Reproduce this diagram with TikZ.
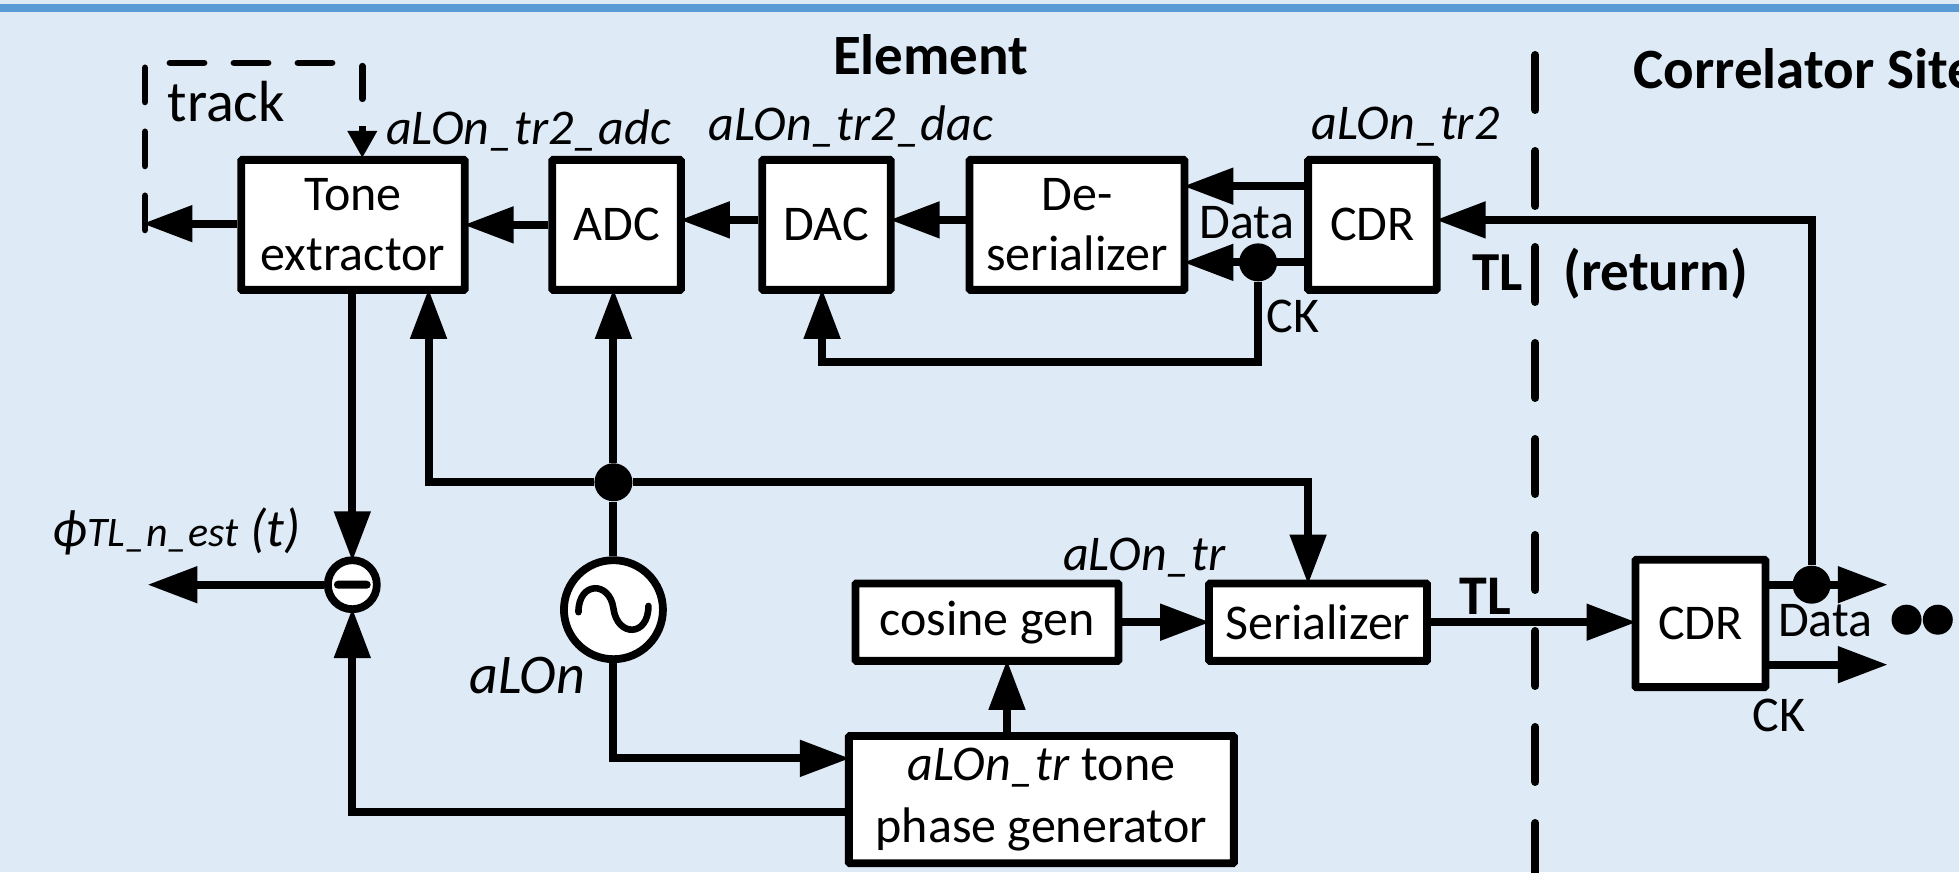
\documentclass[tikz,border=0pt]{standalone}
\usepackage{fontspec}
\setmainfont{Carlito}
\usetikzlibrary{arrows.meta,calc}
\definecolor{bgblue}{HTML}{DEEAF6}
\definecolor{barblue}{HTML}{5B9BD5}
\tikzset{
  x=0.6247pt,y=-0.6247pt,
  blockbox/.style={draw=black,fill=white,line width=3.9pt,align=center,inner sep=0pt,font=\fontsize{25}{30}\selectfont,rounded corners=0.5pt},
  conn/.style={line width=4pt,draw=black},
  arr/.style={conn,shorten >=-2.5pt,-{Triangle[length=25pt,width=17.5pt]}},
  lab/.style={font=\fontsize{25}{30}\selectfont,inner sep=0pt},
  itlab/.style={font=\itshape\fontsize{25}{30}\selectfont,inner sep=0pt},
  boldlab/.style={font=\bfseries\fontsize{28.5}{33}\selectfont,inner sep=0pt},
  dot/.style={circle,fill=black,draw=none,inner sep=0pt,minimum size=19pt},
  dashline/.style={line width=3.4pt,line cap=round,draw=black,dash pattern=on 17pt off 15pt},
  longdash/.style={line width=4pt,line cap=round,draw=black,dash pattern=on 27.5pt off 20.5pt},
}
\begin{document}
\begin{tikzpicture}
\useasboundingbox (0,0) rectangle (1568,698);
\fill[bgblue] (0,0) rectangle (1568,698);
\fill[barblue] (0,3.2) rectangle (1568,9.6);

% blocks
\node[blockbox,minimum width=111.8pt,minimum height=65pt] (tone) at (282.5,180) {Tone\\extractor};
\node[blockbox,minimum width=64.3pt,minimum height=65pt] (adc) at (493.5,180) {ADC};
\node[blockbox,minimum width=64.3pt,minimum height=65pt] (dac) at (661.5,180) {DAC};
\node[blockbox,minimum width=107.5pt,minimum height=65pt] (deser) at (862,180) {De-\\serializer};
\node[blockbox,minimum width=64.3pt,minimum height=65pt] (cdra) at (1098.5,180) {CDR};
\node[blockbox,minimum width=131.5pt,minimum height=38.7pt] (cosg) at (790,498) {\raisebox{-1.2pt}{cosine gen}};
\node[blockbox,minimum width=109pt,minimum height=38.7pt] (ser) at (1055,498) {Serializer};
\node[blockbox,minimum width=192.5pt,minimum height=63.7pt] (phase) at (833.5,640) {\raisebox{-1.2pt}{\textit{aLOn\_tr} tone}\\\raisebox{-2.4pt}{phase generator}};
\node[blockbox,minimum width=65pt,minimum height=63.7pt] (cdrb) at (1361,499) {CDR};

% oscillator and subtractor
\node[circle,draw=black,fill=white,line width=3.9pt,minimum size=49.5pt,inner sep=0pt] (osc) at (491,488) {};
\draw[line width=3.3pt,line cap=round] (463,490) .. controls (463,465) and (488,465) .. (491,487) .. controls (494,510) and (519,510) .. (519,485);
\node[circle,draw=black,fill=white,line width=3.9pt,minimum size=24.5pt,inner sep=0pt] (minus) at (282,468) {};
\node[fill=black,minimum width=18.4pt,minimum height=4pt,inner sep=0pt,rounded corners=2pt] (minusbar) at (282,468) {};

% junctions
\node[dot] (j1) at (491,386) {};
\node[dot] (j2) at (1007,210) {};
\node[dot] (j3) at (1450,468) {};

% free ends
\coordinate (toneout) at (118,179);
\coordinate (subout) at (122,468);
\coordinate (trackbl) at (116,184);
\coordinate (trackl) at (116,50.4);
\coordinate (trackm) at (272,50.4);
\coordinate (trackr) at (290,53);
\coordinate (trackrb) at (290,79);
\coordinate (trackar) at (290,101);
\coordinate (cka) at (658,290);
\coordinate (lefty) at (343,386);
\coordinate (righty) at (1047,386);
\coordinate (cdrup) at (1450,176);
\coordinate (dataout) at (1507,468);
\coordinate (ckout) at (1507,532);
\coordinate (vtop) at (1229,44);
\coordinate (vbot) at (1229,702);

% dashed
\draw[longdash] (vtop) -- (vbot);
\draw[dashline] (trackbl) -- (trackl) -- (trackm);
\draw[line width=3.4pt,line cap=round] (trackr) -- (trackrb);
\draw[line width=3.3pt,shorten >=-1pt,-{Triangle[length=13.5pt,width=14pt]}] (trackar) -- (tone.north -| trackr);

% connectors
\draw[arr] (tone.west |- toneout) -- (toneout);
\draw[arr] (adc.west) -- (tone.east);
\draw[arr] (dac.west |- 0,176) -- (adc.east |- 0,176);
\draw[arr] (deser.west |- 0,176) -- (dac.east |- 0,176);
\draw[arr] (cdra.west |- 0,149) -- (deser.east |- 0,149);
\draw[arr] (cdra.west |- j2) -- (deser.east |- j2);
\draw[arr] (j2) |- (cka) -- (dac.south -| cka);
\draw[arr] (j3) -- (cdrup) -- (cdra.east |- cdrup);
\draw[arr] (cdrb.east |- j3) -- (dataout);
\draw[arr] (cdrb.east |- ckout) -- (ckout);
\draw[arr] (ser.east) -- (cdrb.west |- ser.east);
\draw[arr] (tone.south -| minus) -- (minus.north);
\draw[arr] (minus.west) -- (subout);
\draw[arr] (phase.west |- 0,650) -| (minus.south);
\draw[arr] (j1) -- (adc.south -| j1);
\draw[arr] (j1) -- (lefty) -- (tone.south -| lefty);
\draw[arr] (j1) -- (righty) -- (ser.north -| righty);
\draw[conn] (j1) -- (osc.north);
\draw[arr] (osc.south) |- (phase.west |- 0,607);
\draw[arr] (phase.north -| 806,0) -- (cosg.south -| 806,0);
\draw[arr] (cosg.east) -- (ser.west);

% ellipsis dots
\node[circle,fill=black,minimum size=15pt,inner sep=0pt] (e1) at (1526,496) {};
\node[circle,fill=black,minimum size=15pt,inner sep=0pt] (e2) at (1551,496) {};

% labels
\node[boldlab] (lelem) at (745,44) {Element};
\node[boldlab,anchor=west] (lcorr) at (1307,55) {Correlator Site};
\node[boldlab,font=\bfseries\fontsize{27.5}{32}\selectfont] (ltlr) at (1199,218) {TL};
\node[boldlab,anchor=west] (lret) at (1251,219) {(return)};
\node[boldlab,font=\bfseries\fontsize{28}{32}\selectfont] (ltl) at (1189,477) {TL};
\node[lab,font=\fontsize{29}{33}\selectfont] (ltrack) at (181,81) {track};
\node[itlab] (l1) at (423,104.5) {aLOn\_tr2\_adc};
\node[itlab] (l2) at (681,101.5) {aLOn\_tr2\_dac};
\node[itlab] (l3) at (1125,101.5) {aLOn\_tr2};
\node[itlab] (l4) at (916,446) {aLOn\_tr};
\node[itlab,font=\itshape\fontsize{28}{32}\selectfont] (l5) at (422,541) {aLOn};
\node[lab] (ldata) at (998,178) {Data};
\node[lab] (lck) at (1035,253) {CK};
\node[lab] (ldatb) at (1461,497) {Data};
\node[lab] (lckb) at (1424,573) {CK};
\node[itlab,anchor=west,font=\itshape\fontsize{26.5}{30}\selectfont] (lphi) at (42,425) {ϕ\fontsize{21}{24}\selectfont TL\_n\_est\fontsize{26.5}{30}\selectfont{} (t)};
\end{tikzpicture}
\end{document}
